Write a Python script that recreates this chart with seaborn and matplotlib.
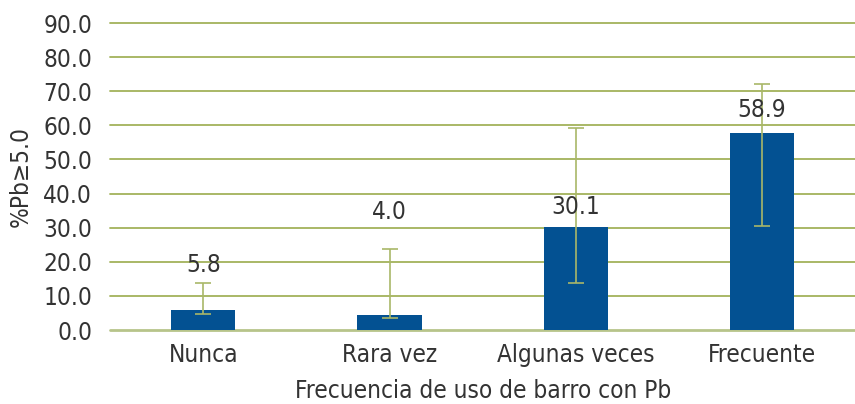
import pandas as pd
import matplotlib
matplotlib.use('Agg')
import matplotlib.pyplot as plt
import seaborn as sns

# Values
categories = ['Nunca', 'Rara vez', 'Algunas veces', 'Frecuente']
bar_height = [5.9, 4.4, 30.3, 57.9]
value_labels = ['5.8', '4.0', '30.1', '58.9']
ci_low = [4.7, 3.5, 13.7, 30.6]
ci_high = [13.7, 23.8, 59.3, 72.1]
label_y = [19.2, 34.5, 36.0, 64.5]
y_ticks = [0, 10, 20, 30, 40, 50, 60, 70, 80, 90]

df = pd.DataFrame({'cat': categories, 'val': bar_height})

sns.set_style('white')
plt.rcParams['font.family'] = ['DejaVu Sans']
plt.rcParams['font.stretch'] = 'condensed'

bar_color = '#035192'
grid_color = '#a3b25a'
text_color = '#333333'
fs = 17.5

fig = plt.figure(figsize=(8.55, 4.04), dpi=100)
ax = fig.add_axes([0.129, 0.183, 0.871, 0.760])

# Grid lines first so bars sit on top
for t in y_ticks:
    ax.axhline(t, color='#b7c48a' if t == 0 else grid_color, lw=2.0 if t == 0 else 1.3,
               zorder=0, clip_on=False)

sns.barplot(data=df, x='cat', y='val', color=bar_color, width=0.345,
            saturation=1, linewidth=0, edgecolor='none', ax=ax, zorder=2)

# Confidence intervals
xs = list(range(len(categories)))
lower = [v - lo for v, lo in zip(bar_height, ci_low)]
upper = [hi - v for v, hi in zip(bar_height, ci_high)]
ax.errorbar(xs, bar_height, yerr=[lower, upper], fmt='none',
            ecolor='#a9b768', elinewidth=1.2, capsize=6, capthick=1.2, zorder=3)

for x, y, s in zip(xs, label_y, value_labels):
    ax.text(x, y, s, ha='center', va='center', fontsize=fs, color=text_color, zorder=4)

ax.set_ylim(0, 90)
ax.set_xlim(-0.5, len(categories) - 0.5)
ax.set_yticks(y_ticks)
ax.set_yticklabels([f'{t:.1f}' for t in y_ticks])
ax.tick_params(axis='both', length=0, labelsize=fs, labelcolor=text_color)
ax.tick_params(axis='y', pad=13)
ax.tick_params(axis='x', pad=9)
ax.set_xlabel('Frecuencia de uso de barro con Pb', fontsize=fs, color=text_color, labelpad=9)
ax.set_ylabel('%Pb≥5.0', fontsize=fs, color=text_color, labelpad=8)
for side in ['top', 'right', 'left', 'bottom']:
    ax.spines[side].set_visible(False)

fig.savefig('out.png', dpi=100)
